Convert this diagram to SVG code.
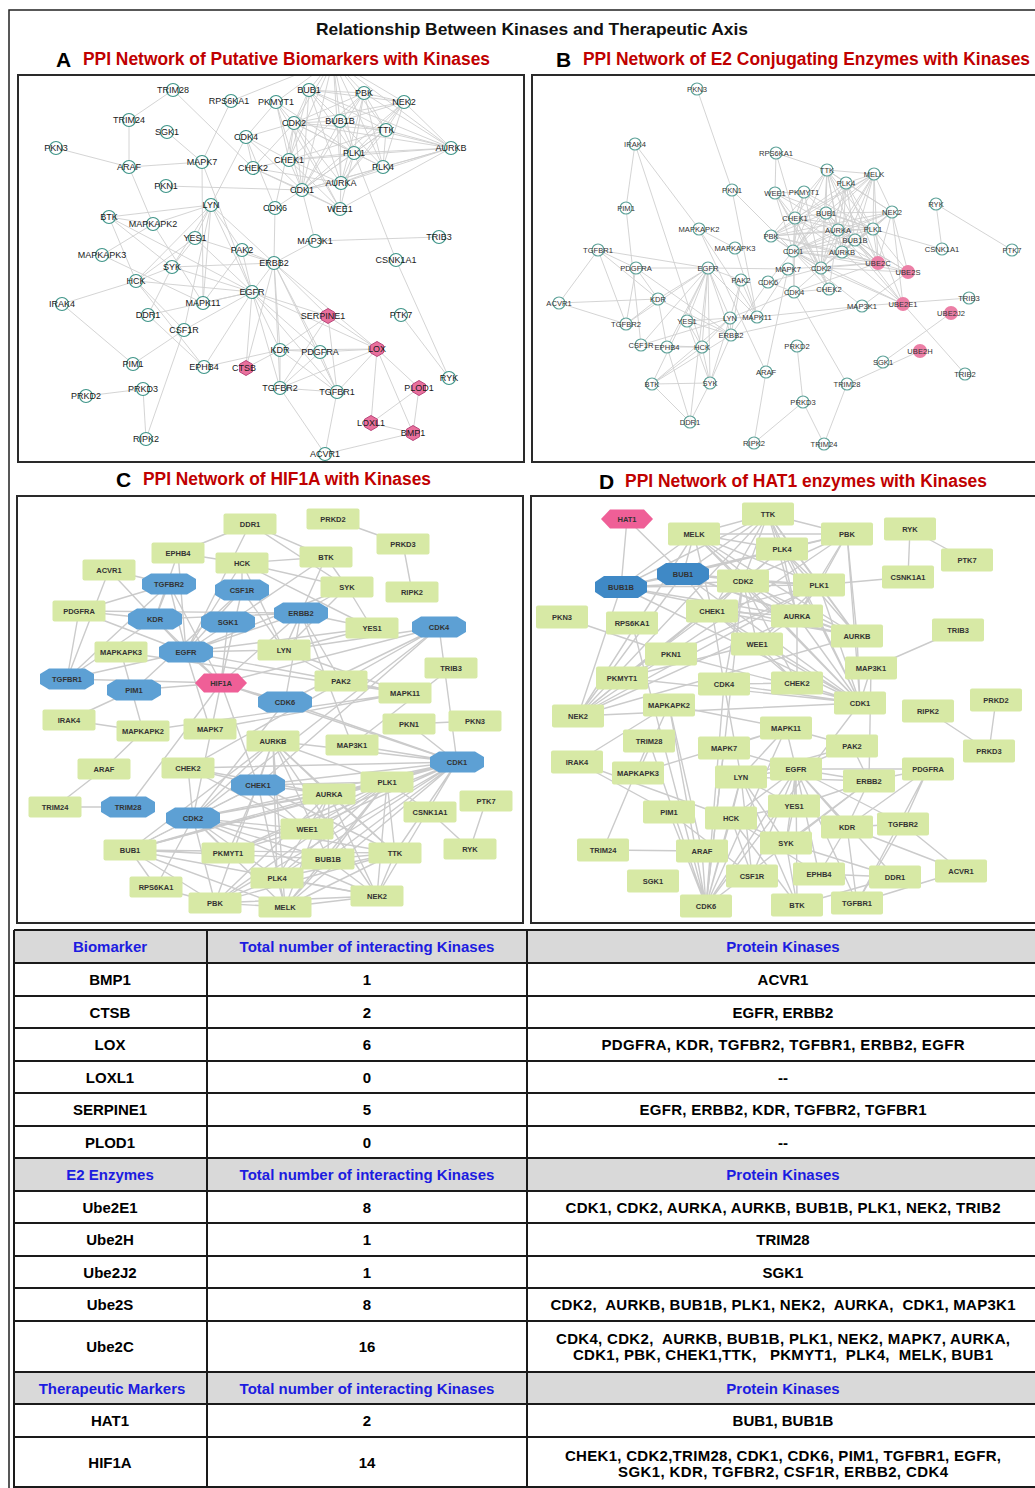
<svg xmlns="http://www.w3.org/2000/svg" width="1035" height="1488" viewBox="0 0 1035 1488">
<style>
.ca{fill:#fff;fill-opacity:.8;stroke:#3e9488;stroke-width:1.2}
.pa{fill:#e9709d;stroke:#b8467a;stroke-width:1}
.ta{font:9px "Liberation Sans",Arial,sans-serif;fill:#1a1a1a;text-anchor:middle}
.cb{fill:#fff;fill-opacity:.8;stroke:#5fa39a;stroke-width:1.1}
.pb{fill:#ec7fa6}
.tb{font:7.6px "Liberation Sans",Arial,sans-serif;fill:#333;text-anchor:middle}
.rn{fill:#d7e9a5}
.oc{fill:#5da0d4}
.od{fill:#3f89c6}
.hx{fill:#ef5f97}
.tc{font:bold 7.5px "Liberation Sans",Arial,sans-serif;fill:#333;text-anchor:middle}
.ea{fill:none;stroke:#cfcfcf;stroke-width:.9}
.ec{fill:none;stroke:#cbcbcb;stroke-width:1.4}
.box{fill:none;stroke:#2a2a2a;stroke-width:2}
.ttl{font:bold 17px "Liberation Sans",Arial,sans-serif;fill:#111}
.let{font:bold 21px "Liberation Sans",Arial,sans-serif;fill:#000}
.red{font:bold 17.5px "Liberation Sans",Arial,sans-serif;fill:#c00000}
.th{font:bold 15px "Liberation Sans",Arial,sans-serif;fill:#1c1ce0;text-anchor:middle}
.td{font:bold 15px "Liberation Sans",Arial,sans-serif;fill:#000;text-anchor:middle;white-space:pre}
.hdr{fill:#d9d9d9}
.grid{stroke:#1a1a1a;stroke-width:2;fill:none}
</style>
<defs>
<clipPath id="clipA"><rect x="19" y="76" width="504" height="385"/></clipPath>
<clipPath id="clipB"><rect x="533" y="76" width="502" height="385"/></clipPath>
<circle id="cA" r="6.5"/>
<polygon id="hA" points="0,-7.5 6.5,-3.75 6.5,3.75 0,7.5 -6.5,3.75 -6.5,-3.75"/>
<circle id="cB" r="6"/>
<circle id="pB" r="7"/>
<rect id="rC" x="-26.5" y="-10.5" width="53" height="21" rx="2"/>
<polygon id="oC" points="-27,-5 -18,-10.5 18,-10.5 27,-5 27,5 18,10.5 -18,10.5 -27,5"/>
<rect id="rD" x="-26" y="-11.5" width="52" height="23" rx="2"/>
<polygon id="oD" points="-26,-5 -17,-11 17,-11 26,-5 26,5 17,11 -17,11 -26,5"/>
<polygon id="hX" points="-26,0 -17,-9.5 17,-9.5 26,0 17,9.5 -17,9.5"/>
</defs>
<rect width="1035" height="1488" fill="#fff"/>
<rect x="9" y="10" width="1040" height="1490" fill="none" stroke="#222" stroke-width="1.5"/>

<!-- headings -->
<text class="ttl" x="316" y="34.5" textLength="432" lengthAdjust="spacingAndGlyphs">Relationship Between Kinases and Therapeutic Axis</text>
<text class="let" x="56" y="67">A</text>
<text class="red" x="83" y="65" textLength="407" lengthAdjust="spacingAndGlyphs">PPI Network of Putative Biomarkers with Kinases</text>
<text class="let" x="556" y="67">B</text>
<text class="red" x="583" y="65" textLength="447" lengthAdjust="spacingAndGlyphs">PPI Network of E2 Conjugating Enzymes with Kinases</text>
<text class="let" x="116" y="487">C</text>
<text class="red" x="143" y="485" textLength="288" lengthAdjust="spacingAndGlyphs">PPI Network of HIF1A with Kinases</text>
<text class="let" x="599" y="489">D</text>
<text class="red" x="625" y="487" textLength="362" lengthAdjust="spacingAndGlyphs">PPI Network of HAT1 enzymes with Kinases</text>

<rect class="box" x="18" y="75" width="506" height="387"/>
<rect class="box" x="532" y="75" width="510" height="387"/>
<rect class="box" x="17" y="496" width="506" height="427"/>
<rect class="box" x="531" y="496" width="510" height="427"/>

<!-- connectors -->
<g id="connectors">
<g id="edges-a" class="ea" clip-path="url(#clipA)">
<path d="M302 190L294 123M302 190L341 183M302 190L451 148M302 190L309 90M302 190L340 121M302 190L354 153M302 190L383 167M302 190L386 130M302 190L404 102M302 190L364 93M302 190L289 160M302 190L276 102M302 190L340 209M302 190L333 60M302 190L246 137M302 190L253 168M302 190L275 208M302 190L315 241M302 190L166 186"/>
<path d="M294 123L341 183M294 123L451 148M294 123L309 90M294 123L340 121M294 123L354 153M294 123L383 167M294 123L386 130M294 123L404 102M294 123L364 93M294 123L289 160M294 123L276 102M294 123L340 209M294 123L333 60M294 123L246 137M294 123L253 168M294 123L275 208"/>
<path d="M341 183L451 148M341 183L309 90M341 183L340 121M341 183L354 153M341 183L383 167M341 183L386 130M341 183L404 102M341 183L364 93M341 183L289 160M341 183L340 209M341 183L333 60M341 183L253 168"/>
<path d="M451 148L309 90M451 148L340 121M451 148L354 153M451 148L383 167M451 148L386 130M451 148L404 102M451 148L364 93M451 148L289 160M451 148L333 60M451 148L340 209"/>
<path d="M309 90L340 121M309 90L354 153M309 90L386 130M309 90L404 102M309 90L364 93M309 90L333 60M309 90L289 160M340 121L354 153M340 121L383 167M340 121L386 130M340 121L404 102M340 121L364 93M340 121L333 60"/>
<path d="M354 153L383 167M354 153L386 130M354 153L404 102M354 153L364 93M354 153L289 160M354 153L276 102M354 153L340 209M354 153L333 60M354 153L396 260M383 167L386 130M383 167L404 102M383 167L364 93M383 167L333 60M386 130L404 102M386 130L364 93M386 130L333 60M386 130L289 160M404 102L364 93M404 102L333 60M364 93L333 60M364 93L289 160"/>
<path d="M289 160L276 102M289 160L340 209M289 160L253 168M289 160L333 60M289 160L246 137M340 209L276 102M340 209L253 168M246 137L275 208M246 137L253 168M246 137L276 102M246 137L211 205M274 263L275 208M276 102L333 60M231 101L333 60"/>
<path d="M252 292L274 263M252 292L280 350M252 292L320 352M252 292L184 330M252 292L136 281M252 292L211 205M252 292L172 267M252 292L195 238M252 292L204 367M252 292L148 315M252 292L242 250M252 292L203 303M252 292L337 392M252 292L280 388M252 292L109 217M252 292L202 162"/>
<path d="M274 263L280 350M274 263L320 352M274 263L211 205M274 263L172 267M274 263L195 238M274 263L242 250M274 263L315 241M274 263L280 388M274 263L337 392"/>
<path d="M211 205L172 267M211 205L136 281M211 205L195 238M211 205L109 217M211 205L184 330M211 205L203 303M211 205L242 250M172 267L136 281M172 267L109 217M172 267L195 238M172 267L148 315M136 281L195 238M136 281L109 217M136 281L184 330M136 281L62 304M136 281L204 367"/>
<path d="M280 350L320 352M280 350L280 388M280 350L337 392M280 350L204 367M337 392L280 388M337 392L325 454M337 392L320 352M280 388L325 454M280 388L320 352M203 303L153 224M203 303L102 255M203 303L202 162M203 303L242 250M153 224L102 255M153 224L129 167M153 224L211 205M153 224L109 217"/>
<path d="M86 396L143 389M143 389L146 439M146 439L184 330M129 120L173 90M129 120L129 167M449 378L401 315M449 378L396 260M439 237L315 241M62 304L133 364M133 364L184 330M56 148L129 167M129 167L202 162M173 90L253 168M231 101L202 162M167 132L202 162M204 367L148 315"/>
<path d="M328 316L252 292M328 316L274 263M328 316L280 350M328 316L280 388M328 316L337 392M328 316L377 349M377 349L320 352M377 349L280 350M377 349L280 388M377 349L337 392M377 349L274 263M377 349L252 292M377 349L371 423M377 349L413 433M377 349L419 388M246 368L252 292M246 368L274 263M246 368L280 350M413 433L325 454M413 433L371 423M413 433L419 388M419 388L371 423"/>
</g>
<g id="edges-b" class="ea" clip-path="url(#clipB)">
<path d="M793 251L821 268M793 251L838 230M793 251L842 252M793 251L826 213M793 251L855 240M793 251L873 229M793 251L846 183M793 251L827 170M793 251L892 212M793 251L771 236M793 251L795 218M793 251L804 192M793 251L775 193M793 251L874 174M793 251L794 292M793 251L829 289M793 251L768 282M793 251L862 306M793 251L732 190"/>
<path d="M821 268L838 230M821 268L842 252M821 268L826 213M821 268L855 240M821 268L873 229M821 268L846 183M821 268L827 170M821 268L892 212M821 268L771 236M821 268L795 218M821 268L804 192M821 268L775 193M821 268L874 174M821 268L794 292M821 268L829 289M821 268L768 282"/>
<path d="M838 230L842 252M838 230L826 213M838 230L855 240M838 230L873 229M838 230L846 183M838 230L827 170M838 230L892 212M838 230L771 236M838 230L795 218M838 230L775 193M838 230L874 174M838 230L829 289"/>
<path d="M842 252L826 213M842 252L855 240M842 252L873 229M842 252L846 183M842 252L827 170M842 252L892 212M842 252L771 236M842 252L795 218M842 252L874 174M826 213L855 240M826 213L873 229M826 213L827 170M826 213L892 212M826 213L771 236M826 213L874 174M826 213L795 218M855 240L873 229M855 240L846 183M855 240L827 170M855 240L892 212M855 240L874 174"/>
<path d="M873 229L846 183M873 229L827 170M873 229L892 212M873 229L771 236M873 229L795 218M873 229L804 192M873 229L775 193M873 229L874 174M873 229L942 249M846 183L827 170M846 183L892 212M846 183L771 236M846 183L874 174M827 170L892 212M827 170L771 236M827 170L874 174M827 170L795 218M892 212L771 236M892 212L874 174M771 236L874 174"/>
<path d="M795 218L804 192M795 218L775 193M795 218L829 289M795 218L874 174M795 218L794 292M775 193L804 192M775 193L829 289M775 193L776 153M794 292L768 282M794 292L829 289M794 292L730 318M794 292L847 384M768 282L731 335"/>
<path d="M708 268L731 335M708 268L658 299M708 268L636 268M708 268L641 345M708 268L702 347M708 268L730 318M708 268L710 383M708 268L687 321M708 268L667 347M708 268L690 422M708 268L741 280M708 268L757 317M708 268L598 250M708 268L626 324M708 268L652 384M708 268L788 269"/>
<path d="M731 335L658 299M731 335L636 268M731 335L730 318M731 335L710 383M731 335L687 321M731 335L741 280M731 335L862 306M731 335L652 384M730 318L710 383M730 318L702 347M730 318L687 321M730 318L652 384M730 318L641 345M730 318L757 317M730 318L741 280"/>
<path d="M710 383L702 347M710 383L652 384M710 383L687 321M710 383L690 422M702 347L687 321M702 347L652 384M702 347L641 345M702 347L635 144M702 347L667 347M658 299L636 268M658 299L626 324M658 299L598 250M658 299L667 347M658 299L559 303M598 250L626 324M598 250L559 303M598 250L636 268M626 324L559 303M626 324L636 268"/>
<path d="M757 317L699 229M757 317L735 248M757 317L788 269M757 317L741 280M757 317L862 306M699 229L735 248M699 229L766 372M699 229L635 144"/>
<path d="M797 346L803 402M803 402L754 443M803 402L824 444M824 444L847 384M766 372L754 443M766 372L788 269M936 204L1012 250M936 204L942 249M969 298L862 306M635 144L626 208M626 208L641 345M697 89L732 190M732 190L757 317M776 153L795 218M776 153L827 170M667 347L690 422M652 384L690 422"/>
<path d="M878 263L794 292M878 263L821 268M878 263L842 252M878 263L855 240M878 263L873 229M878 263L892 212M878 263L788 269M878 263L838 230M878 263L793 251M878 263L771 236M878 263L795 218M878 263L827 170M878 263L804 192M878 263L846 183M878 263L874 174M878 263L826 213"/>
<path d="M903 304L793 251M903 304L821 268M903 304L838 230M903 304L842 252M903 304L855 240M903 304L873 229M903 304L892 212M903 304L965 374M920 351L847 384M951 313L883 362M908 272L821 268M908 272L842 252M908 272L855 240M908 272L873 229M908 272L892 212M908 272L838 230M908 272L793 251M908 272L862 306"/>
</g>
<g id="edges-c" class="ec">
<path d="M457 762L193 818M457 762L329 794M457 762L273 741M457 762L130 850M457 762L328 859M457 762L387 782M457 762L277 878M457 762L395 853M457 762L377 896M457 762L215 903M457 762L258 785M457 762L228 853M457 762L307 829M457 762L285 907M457 762L439 627M457 762L188 768M457 762L285 702M457 762L352 745M457 762L409 724"/>
<path d="M193 818L329 794M193 818L273 741M193 818L130 850M193 818L328 859M193 818L387 782M193 818L277 878M193 818L395 853M193 818L377 896M193 818L215 903M193 818L258 785M193 818L228 853M193 818L307 829M193 818L285 907M193 818L439 627M193 818L188 768M193 818L285 702"/>
<path d="M329 794L273 741M329 794L130 850M329 794L328 859M329 794L387 782M329 794L277 878M329 794L395 853M329 794L377 896M329 794L215 903M329 794L258 785M329 794L307 829M329 794L285 907M329 794L188 768"/>
<path d="M273 741L130 850M273 741L328 859M273 741L387 782M273 741L277 878M273 741L395 853M273 741L377 896M273 741L215 903M273 741L258 785M273 741L285 907M130 850L328 859M130 850L387 782M130 850L395 853M130 850L377 896M130 850L215 903M130 850L285 907M130 850L258 785M328 859L387 782M328 859L277 878M328 859L395 853M328 859L377 896M328 859L285 907"/>
<path d="M387 782L277 878M387 782L395 853M387 782L377 896M387 782L215 903M387 782L258 785M387 782L228 853M387 782L307 829M387 782L285 907M387 782L430 812M277 878L395 853M277 878L377 896M277 878L215 903M277 878L285 907M395 853L377 896M395 853L215 903M395 853L285 907M395 853L258 785M377 896L215 903M377 896L285 907M215 903L285 907"/>
<path d="M258 785L228 853M258 785L307 829M258 785L188 768M258 785L285 907M258 785L439 627M307 829L228 853M307 829L188 768M439 627L285 702M439 627L188 768M439 627L284 650M285 702L301 613M156 887L215 903M156 887L130 850M156 887L193 818"/>
<path d="M186 652L301 613M186 652L155 619M186 652L79 611M186 652L242 590M186 652L242 563M186 652L284 650M186 652L347 587M186 652L372 628M186 652L178 553M186 652L250 524M186 652L341 681M186 652L405 693M186 652L67 679M186 652L169 584M186 652L326 557M186 652L210 729"/>
<path d="M301 613L155 619M301 613L79 611M301 613L284 650M301 613L347 587M301 613L372 628M301 613L341 681M301 613L352 745M284 650L347 587M284 650L242 563M284 650L372 628M284 650L326 557M284 650L242 590M284 650L405 693M284 650L341 681"/>
<path d="M347 587L242 563M347 587L326 557M347 587L372 628M347 587L250 524M242 563L372 628M242 563L326 557M242 563L242 590M242 563L178 553M155 619L79 611M155 619L169 584M155 619L67 679M155 619L178 553M155 619L109 570M67 679L169 584M67 679L109 570M67 679L79 611M169 584L109 570M169 584L79 611"/>
<path d="M405 693L143 731M405 693L121 652M405 693L210 729M405 693L341 681M143 731L121 652M143 731L104 769M143 731L69 720M333 519L403 544M403 544L412 592M55 807L128 807M55 807L104 769M470 849L486 801M470 849L430 812M451 668L352 745M69 720L134 690M134 690L242 590M409 724L475 721M250 524L178 553M250 524L326 557"/>
<path d="M221 683L258 785M221 683L193 818M221 683L128 807M221 683L457 762M221 683L285 702M221 683L134 690M221 683L67 679M221 683L186 652M221 683L228 622M221 683L155 619M221 683L169 584M221 683L242 590M221 683L301 613M221 683L439 627"/>
</g>
<g id="edges-d" class="ec">
<path d="M860 703L743 581M860 703L797 616M860 703L857 636M860 703L683 574M860 703L621 587M860 703L819 585M860 703L782 549M860 703L768 514M860 703L578 716M860 703L847 534M860 703L712 611M860 703L622 678M860 703L757 644M860 703L694 534M860 703L724 684M860 703L797 683M860 703L706 906M860 703L871 668M860 703L671 654"/>
<path d="M743 581L797 616M743 581L857 636M743 581L683 574M743 581L621 587M743 581L819 585M743 581L782 549M743 581L768 514M743 581L578 716M743 581L847 534M743 581L712 611M743 581L622 678M743 581L757 644M743 581L694 534M743 581L724 684M743 581L797 683M743 581L706 906"/>
<path d="M797 616L857 636M797 616L683 574M797 616L621 587M797 616L819 585M797 616L782 549M797 616L768 514M797 616L578 716M797 616L847 534M797 616L712 611M797 616L757 644M797 616L694 534M797 616L797 683"/>
<path d="M857 636L683 574M857 636L621 587M857 636L819 585M857 636L782 549M857 636L768 514M857 636L578 716M857 636L847 534M857 636L712 611M857 636L694 534M683 574L621 587M683 574L819 585M683 574L768 514M683 574L578 716M683 574L847 534M683 574L694 534M683 574L712 611M621 587L819 585M621 587L782 549M621 587L768 514M621 587L578 716M621 587L694 534"/>
<path d="M819 585L782 549M819 585L768 514M819 585L578 716M819 585L847 534M819 585L712 611M819 585L622 678M819 585L757 644M819 585L694 534M819 585L908 577M782 549L768 514M782 549L578 716M782 549L847 534M782 549L694 534M768 514L578 716M768 514L847 534M768 514L694 534M768 514L712 611M578 716L847 534M578 716L694 534M847 534L694 534"/>
<path d="M712 611L622 678M712 611L757 644M712 611L797 683M712 611L694 534M712 611L724 684M757 644L622 678M757 644L797 683M724 684L706 906M724 684L797 683M724 684L741 777"/>
<path d="M706 906L869 781M706 906L702 851M706 906L731 818M706 906L741 777M706 906L724 748M706 906L669 812M706 906L649 741M706 906L669 705M706 906L632 623M706 906L786 728M706 906L796 769"/>
<path d="M796 769L869 781M796 769L847 827M796 769L928 769M796 769L752 876M796 769L731 818M796 769L741 777M796 769L786 843M796 769L794 806M796 769L819 874M796 769L895 877M796 769L852 746M796 769L786 728M796 769L857 903M796 769L903 824M796 769L797 905M796 769L724 748"/>
<path d="M869 781L847 827M869 781L928 769M869 781L741 777M869 781L786 843M869 781L794 806M869 781L852 746M869 781L871 668M741 777L786 843M741 777L731 818M741 777L794 806M741 777L797 905M741 777L752 876M741 777L786 728M741 777L852 746"/>
<path d="M786 843L731 818M786 843L797 905M786 843L794 806M786 843L895 877M731 818L794 806M731 818L797 905M731 818L752 876M731 818L577 762M731 818L819 874M847 827L928 769M847 827L903 824M847 827L857 903M847 827L819 874M847 827L961 871M857 903L903 824M857 903L961 871M857 903L928 769M903 824L961 871M903 824L928 769"/>
<path d="M786 728L669 705M786 728L638 773M786 728L724 748M786 728L852 746M669 705L638 773M669 705L702 851M669 705L577 762"/>
<path d="M996 700L989 751M989 751L928 711M603 850L649 741M603 850L702 851M910 529L967 560M910 529L908 577M958 630L871 668M577 762L669 812M669 812L752 876M671 654L562 617M895 877L819 874M895 877L797 905M627 519L683 574M627 519L621 587"/>
</g>
</g>

<!-- Panel A nodes -->
<g id="panel-a-nodes">
<g id="a-trim28" transform="translate(173 90)"><use href="#cA" class="ca"/><text class="ta" y="3">TRIM28</text></g>
<g id="a-rps6ka1" transform="translate(231 101)"><use href="#cA" class="ca"/><text class="ta" x="-2" y="3">RPS6KA1</text></g>
<g id="a-pkmyt1" transform="translate(276 102)"><use href="#cA" class="ca"/><text class="ta" y="3">PKMYT1</text></g>
<g id="a-bub1" transform="translate(309 90)"><use href="#cA" class="ca"/><text class="ta" y="3">BUB1</text></g>
<g id="a-pbk" transform="translate(364 93)"><use href="#cA" class="ca"/><text class="ta" y="3">PBK</text></g>
<g id="a-nek2" transform="translate(404 102)"><use href="#cA" class="ca"/><text class="ta" y="3">NEK2</text></g>
<g id="a-trim24" transform="translate(129 120)"><use href="#cA" class="ca"/><text class="ta" y="3">TRIM24</text></g>
<g id="a-sgk1" transform="translate(167 132)"><use href="#cA" class="ca"/><text class="ta" y="3">SGK1</text></g>
<g id="a-cdk2" transform="translate(294 123)"><use href="#cA" class="ca"/><text class="ta" y="3">CDK2</text></g>
<g id="a-bub1b" transform="translate(340 121)"><use href="#cA" class="ca"/><text class="ta" y="3">BUB1B</text></g>
<g id="a-ttk" transform="translate(386 130)"><use href="#cA" class="ca"/><text class="ta" y="3">TTK</text></g>
<g id="a-cdk4" transform="translate(246 137)"><use href="#cA" class="ca"/><text class="ta" y="3">CDK4</text></g>
<g id="a-pkn3" transform="translate(56 148)"><use href="#cA" class="ca"/><text class="ta" y="3">PKN3</text></g>
<g id="a-aurkb" transform="translate(451 148)"><use href="#cA" class="ca"/><text class="ta" y="3">AURKB</text></g>
<g id="a-araf" transform="translate(129 167)"><use href="#cA" class="ca"/><text class="ta" y="3">ARAF</text></g>
<g id="a-mapk7" transform="translate(202 162)"><use href="#cA" class="ca"/><text class="ta" y="3">MAPK7</text></g>
<g id="a-chek2" transform="translate(253 168)"><use href="#cA" class="ca"/><text class="ta" y="3">CHEK2</text></g>
<g id="a-chek1" transform="translate(289 160)"><use href="#cA" class="ca"/><text class="ta" y="3">CHEK1</text></g>
<g id="a-plk1" transform="translate(354 153)"><use href="#cA" class="ca"/><text class="ta" y="3">PLK1</text></g>
<g id="a-plk4" transform="translate(383 167)"><use href="#cA" class="ca"/><text class="ta" y="3">PLK4</text></g>
<g id="a-pkn1" transform="translate(166 186)"><use href="#cA" class="ca"/><text class="ta" y="3">PKN1</text></g>
<g id="a-aurka" transform="translate(341 183)"><use href="#cA" class="ca"/><text class="ta" y="3">AURKA</text></g>
<g id="a-cdk1" transform="translate(302 190)"><use href="#cA" class="ca"/><text class="ta" y="3">CDK1</text></g>
<g id="a-lyn" transform="translate(211 205)"><use href="#cA" class="ca"/><text class="ta" y="3">LYN</text></g>
<g id="a-cdk6" transform="translate(275 208)"><use href="#cA" class="ca"/><text class="ta" y="3">CDK6</text></g>
<g id="a-wee1" transform="translate(340 209)"><use href="#cA" class="ca"/><text class="ta" y="3">WEE1</text></g>
<g id="a-btk" transform="translate(109 217)"><use href="#cA" class="ca"/><text class="ta" y="3">BTK</text></g>
<g id="a-mapkapk2" transform="translate(153 224)"><use href="#cA" class="ca"/><text class="ta" y="3">MAPKAPK2</text></g>
<g id="a-yes1" transform="translate(195 238)"><use href="#cA" class="ca"/><text class="ta" y="3">YES1</text></g>
<g id="a-map3k1" transform="translate(315 241)"><use href="#cA" class="ca"/><text class="ta" y="3">MAP3K1</text></g>
<g id="a-trib3" transform="translate(439 237)"><use href="#cA" class="ca"/><text class="ta" y="3">TRIB3</text></g>
<g id="a-pak2" transform="translate(242 250)"><use href="#cA" class="ca"/><text class="ta" y="3">PAK2</text></g>
<g id="a-mapkapk3" transform="translate(102 255)"><use href="#cA" class="ca"/><text class="ta" y="3">MAPKAPK3</text></g>
<g id="a-erbb2" transform="translate(274 263)"><use href="#cA" class="ca"/><text class="ta" y="3">ERBB2</text></g>
<g id="a-csnk1a1" transform="translate(396 260)"><use href="#cA" class="ca"/><text class="ta" y="3">CSNK1A1</text></g>
<g id="a-syk" transform="translate(172 267)"><use href="#cA" class="ca"/><text class="ta" y="3">SYK</text></g>
<g id="a-hck" transform="translate(136 281)"><use href="#cA" class="ca"/><text class="ta" y="3">HCK</text></g>
<g id="a-egfr" transform="translate(252 292)"><use href="#cA" class="ca"/><text class="ta" y="3">EGFR</text></g>
<g id="a-irak4" transform="translate(62 304)"><use href="#cA" class="ca"/><text class="ta" y="3">IRAK4</text></g>
<g id="a-mapk11" transform="translate(203 303)"><use href="#cA" class="ca"/><text class="ta" y="3">MAPK11</text></g>
<g id="a-ddr1" transform="translate(148 315)"><use href="#cA" class="ca"/><text class="ta" y="3">DDR1</text></g>
<g id="a-serpine1" transform="translate(328 316)"><use href="#hA" class="pa"/><text class="ta" x="-5" y="3">SERPINE1</text></g>
<g id="a-ptk7" transform="translate(401 315)"><use href="#cA" class="ca"/><text class="ta" y="3">PTK7</text></g>
<g id="a-csf1r" transform="translate(184 330)"><use href="#cA" class="ca"/><text class="ta" y="3">CSF1R</text></g>
<g id="a-kdr" transform="translate(280 350)"><use href="#cA" class="ca"/><text class="ta" y="3">KDR</text></g>
<g id="a-pdgfra" transform="translate(320 352)"><use href="#cA" class="ca"/><text class="ta" y="3">PDGFRA</text></g>
<g id="a-lox" transform="translate(377 349)"><use href="#hA" class="pa"/><text class="ta" y="3">LOX</text></g>
<g id="a-pim1" transform="translate(133 364)"><use href="#cA" class="ca"/><text class="ta" y="3">PIM1</text></g>
<g id="a-ephb4" transform="translate(204 367)"><use href="#cA" class="ca"/><text class="ta" y="3">EPHB4</text></g>
<g id="a-ctsb" transform="translate(246 368)"><use href="#hA" class="pa"/><text class="ta" x="-2" y="3">CTSB</text></g>
<g id="a-ryk" transform="translate(449 378)"><use href="#cA" class="ca"/><text class="ta" y="3">RYK</text></g>
<g id="a-prkd3" transform="translate(143 389)"><use href="#cA" class="ca"/><text class="ta" y="3">PRKD3</text></g>
<g id="a-prkd2" transform="translate(86 396)"><use href="#cA" class="ca"/><text class="ta" y="3">PRKD2</text></g>
<g id="a-tgfbr2" transform="translate(280 388)"><use href="#cA" class="ca"/><text class="ta" y="3">TGFBR2</text></g>
<g id="a-tgfbr1" transform="translate(337 392)"><use href="#cA" class="ca"/><text class="ta" y="3">TGFBR1</text></g>
<g id="a-plod1" transform="translate(419 388)"><use href="#hA" class="pa"/><text class="ta" y="3">PLOD1</text></g>
<g id="a-loxl1" transform="translate(371 423)"><use href="#hA" class="pa"/><text class="ta" y="3">LOXL1</text></g>
<g id="a-bmp1" transform="translate(413 433)"><use href="#hA" class="pa"/><text class="ta" y="3">BMP1</text></g>
<g id="a-ripk2" transform="translate(146 439)"><use href="#cA" class="ca"/><text class="ta" y="3">RIPK2</text></g>
<g id="a-acvr1" transform="translate(325 454)"><use href="#cA" class="ca"/><text class="ta" y="3">ACVR1</text></g>
</g>

<!-- Panel B nodes -->
<g id="panel-b-nodes">
<g id="b-pkn3" transform="translate(697 89)"><use href="#cB" class="cb"/><text class="tb" y="2.7">PKN3</text></g>
<g id="b-irak4" transform="translate(635 144)"><use href="#cB" class="cb"/><text class="tb" y="2.7">IRAK4</text></g>
<g id="b-rps6ka1" transform="translate(776 153)"><use href="#cB" class="cb"/><text class="tb" y="2.7">RPS6KA1</text></g>
<g id="b-ttk" transform="translate(827 170)"><use href="#cB" class="cb"/><text class="tb" y="2.7">TTK</text></g>
<g id="b-melk" transform="translate(874 174)"><use href="#cB" class="cb"/><text class="tb" y="2.7">MELK</text></g>
<g id="b-plk4" transform="translate(846 183)"><use href="#cB" class="cb"/><text class="tb" y="2.7">PLK4</text></g>
<g id="b-pkn1" transform="translate(732 190)"><use href="#cB" class="cb"/><text class="tb" y="2.7">PKN1</text></g>
<g id="b-wee1" transform="translate(775 193)"><use href="#cB" class="cb"/><text class="tb" y="2.7">WEE1</text></g>
<g id="b-pkmyt1" transform="translate(804 192)"><use href="#cB" class="cb"/><text class="tb" y="2.7">PKMYT1</text></g>
<g id="b-ryk" transform="translate(936 204)"><use href="#cB" class="cb"/><text class="tb" y="2.7">RYK</text></g>
<g id="b-pim1" transform="translate(626 208)"><use href="#cB" class="cb"/><text class="tb" y="2.7">PIM1</text></g>
<g id="b-bub1" transform="translate(826 213)"><use href="#cB" class="cb"/><text class="tb" y="2.7">BUB1</text></g>
<g id="b-nek2" transform="translate(892 212)"><use href="#cB" class="cb"/><text class="tb" y="2.7">NEK2</text></g>
<g id="b-chek1" transform="translate(795 218)"><use href="#cB" class="cb"/><text class="tb" y="2.7">CHEK1</text></g>
<g id="b-mapkapk2" transform="translate(699 229)"><use href="#cB" class="cb"/><text class="tb" y="2.7">MAPKAPK2</text></g>
<g id="b-aurka" transform="translate(838 230)"><use href="#cB" class="cb"/><text class="tb" y="2.7">AURKA</text></g>
<g id="b-plk1" transform="translate(873 229)"><use href="#cB" class="cb"/><text class="tb" y="2.7">PLK1</text></g>
<g id="b-pbk" transform="translate(771 236)"><use href="#cB" class="cb"/><text class="tb" y="2.7">PBK</text></g>
<g id="b-bub1b" transform="translate(855 240)"><use href="#cB" class="cb"/><text class="tb" y="2.7">BUB1B</text></g>
<g id="b-tgfbr1" transform="translate(598 250)"><use href="#cB" class="cb"/><text class="tb" y="2.7">TGFBR1</text></g>
<g id="b-mapkapk3" transform="translate(735 248)"><use href="#cB" class="cb"/><text class="tb" y="2.7">MAPKAPK3</text></g>
<g id="b-cdk1" transform="translate(793 251)"><use href="#cB" class="cb"/><text class="tb" y="2.7">CDK1</text></g>
<g id="b-aurkb" transform="translate(842 252)"><use href="#cB" class="cb"/><text class="tb" y="2.7">AURKB</text></g>
<g id="b-csnk1a1" transform="translate(942 249)"><use href="#cB" class="cb"/><text class="tb" y="2.7">CSNK1A1</text></g>
<g id="b-ptk7" transform="translate(1012 250)"><use href="#cB" class="cb"/><text class="tb" y="2.7">PTK7</text></g>
<g id="b-ube2c" transform="translate(878 263)"><use href="#pB" class="pb"/><text class="tb" y="2.7">UBE2C</text></g>
<g id="b-pdgfra" transform="translate(636 268)"><use href="#cB" class="cb"/><text class="tb" y="2.7">PDGFRA</text></g>
<g id="b-egfr" transform="translate(708 268)"><use href="#cB" class="cb"/><text class="tb" y="2.7">EGFR</text></g>
<g id="b-mapk7" transform="translate(788 269)"><use href="#cB" class="cb"/><text class="tb" y="2.7">MAPK7</text></g>
<g id="b-cdk2" transform="translate(821 268)"><use href="#cB" class="cb"/><text class="tb" y="2.7">CDK2</text></g>
<g id="b-ube2s" transform="translate(908 272)"><use href="#pB" class="pb"/><text class="tb" y="2.7">UBE2S</text></g>
<g id="b-pak2" transform="translate(741 280)"><use href="#cB" class="cb"/><text class="tb" y="2.7">PAK2</text></g>
<g id="b-cdk6" transform="translate(768 282)"><use href="#cB" class="cb"/><text class="tb" y="2.7">CDK6</text></g>
<g id="b-cdk4" transform="translate(794 292)"><use href="#cB" class="cb"/><text class="tb" y="2.7">CDK4</text></g>
<g id="b-chek2" transform="translate(829 289)"><use href="#cB" class="cb"/><text class="tb" y="2.7">CHEK2</text></g>
<g id="b-acvr1" transform="translate(559 303)"><use href="#cB" class="cb"/><text class="tb" y="2.7">ACVR1</text></g>
<g id="b-kdr" transform="translate(658 299)"><use href="#cB" class="cb"/><text class="tb" y="2.7">KDR</text></g>
<g id="b-map3k1" transform="translate(862 306)"><use href="#cB" class="cb"/><text class="tb" y="2.7">MAP3K1</text></g>
<g id="b-ube2e1" transform="translate(903 304)"><use href="#pB" class="pb"/><text class="tb" y="2.7">UBE2E1</text></g>
<g id="b-trib3" transform="translate(969 298)"><use href="#cB" class="cb"/><text class="tb" y="2.7">TRIB3</text></g>
<g id="b-ube2j2" transform="translate(951 313)"><use href="#pB" class="pb"/><text class="tb" y="2.7">UBE2J2</text></g>
<g id="b-tgfbr2" transform="translate(626 324)"><use href="#cB" class="cb"/><text class="tb" y="2.7">TGFBR2</text></g>
<g id="b-yes1" transform="translate(687 321)"><use href="#cB" class="cb"/><text class="tb" y="2.7">YES1</text></g>
<g id="b-lyn" transform="translate(730 318)"><use href="#cB" class="cb"/><text class="tb" y="2.7">LYN</text></g>
<g id="b-mapk11" transform="translate(757 317)"><use href="#cB" class="cb"/><text class="tb" y="2.7">MAPK11</text></g>
<g id="b-erbb2" transform="translate(731 335)"><use href="#cB" class="cb"/><text class="tb" y="2.7">ERBB2</text></g>
<g id="b-csf1r" transform="translate(641 345)"><use href="#cB" class="cb"/><text class="tb" y="2.7">CSF1R</text></g>
<g id="b-ephb4" transform="translate(667 347)"><use href="#cB" class="cb"/><text class="tb" y="2.7">EPHB4</text></g>
<g id="b-hck" transform="translate(702 347)"><use href="#cB" class="cb"/><text class="tb" y="2.7">HCK</text></g>
<g id="b-prkd2" transform="translate(797 346)"><use href="#cB" class="cb"/><text class="tb" y="2.7">PRKD2</text></g>
<g id="b-ube2h" transform="translate(920 351)"><use href="#pB" class="pb"/><text class="tb" y="2.7">UBE2H</text></g>
<g id="b-sgk1" transform="translate(883 362)"><use href="#cB" class="cb"/><text class="tb" y="2.7">SGK1</text></g>
<g id="b-trib2" transform="translate(965 374)"><use href="#cB" class="cb"/><text class="tb" y="2.7">TRIB2</text></g>
<g id="b-araf" transform="translate(766 372)"><use href="#cB" class="cb"/><text class="tb" y="2.7">ARAF</text></g>
<g id="b-btk" transform="translate(652 384)"><use href="#cB" class="cb"/><text class="tb" y="2.7">BTK</text></g>
<g id="b-syk" transform="translate(710 383)"><use href="#cB" class="cb"/><text class="tb" y="2.7">SYK</text></g>
<g id="b-trim28" transform="translate(847 384)"><use href="#cB" class="cb"/><text class="tb" y="2.7">TRIM28</text></g>
<g id="b-prkd3" transform="translate(803 402)"><use href="#cB" class="cb"/><text class="tb" y="2.7">PRKD3</text></g>
<g id="b-ddr1" transform="translate(690 422)"><use href="#cB" class="cb"/><text class="tb" y="2.7">DDR1</text></g>
<g id="b-ripk2" transform="translate(754 443)"><use href="#cB" class="cb"/><text class="tb" y="2.7">RIPK2</text></g>
<g id="b-trim24" transform="translate(824 444)"><use href="#cB" class="cb"/><text class="tb" y="2.7">TRIM24</text></g>
</g>

<!-- Panel C nodes -->
<g id="panel-c-nodes">
<g id="c-ddr1" transform="translate(250 524)"><use href="#rC" class="rn"/><text class="tc" y="2.7">DDR1</text></g>
<g id="c-prkd2" transform="translate(333 519)"><use href="#rC" class="rn"/><text class="tc" y="2.7">PRKD2</text></g>
<g id="c-ephb4" transform="translate(178 553)"><use href="#rC" class="rn"/><text class="tc" y="2.7">EPHB4</text></g>
<g id="c-hck" transform="translate(242 563)"><use href="#rC" class="rn"/><text class="tc" y="2.7">HCK</text></g>
<g id="c-btk" transform="translate(326 557)"><use href="#rC" class="rn"/><text class="tc" y="2.7">BTK</text></g>
<g id="c-prkd3" transform="translate(403 544)"><use href="#rC" class="rn"/><text class="tc" y="2.7">PRKD3</text></g>
<g id="c-acvr1" transform="translate(109 570)"><use href="#rC" class="rn"/><text class="tc" y="2.7">ACVR1</text></g>
<g id="c-tgfbr2" transform="translate(169 584)"><use href="#oC" class="oc"/><text class="tc" y="2.7">TGFBR2</text></g>
<g id="c-csf1r" transform="translate(242 590)"><use href="#oC" class="oc"/><text class="tc" y="2.7">CSF1R</text></g>
<g id="c-syk" transform="translate(347 587)"><use href="#rC" class="rn"/><text class="tc" y="2.7">SYK</text></g>
<g id="c-ripk2" transform="translate(412 592)"><use href="#rC" class="rn"/><text class="tc" y="2.7">RIPK2</text></g>
<g id="c-pdgfra" transform="translate(79 611)"><use href="#rC" class="rn"/><text class="tc" y="2.7">PDGFRA</text></g>
<g id="c-kdr" transform="translate(155 619)"><use href="#oC" class="oc"/><text class="tc" y="2.7">KDR</text></g>
<g id="c-sgk1" transform="translate(228 622)"><use href="#oC" class="oc"/><text class="tc" y="2.7">SGK1</text></g>
<g id="c-erbb2" transform="translate(301 613)"><use href="#oC" class="oc"/><text class="tc" y="2.7">ERBB2</text></g>
<g id="c-yes1" transform="translate(372 628)"><use href="#rC" class="rn"/><text class="tc" y="2.7">YES1</text></g>
<g id="c-cdk4" transform="translate(439 627)"><use href="#oC" class="oc"/><text class="tc" y="2.7">CDK4</text></g>
<g id="c-mapkapk3" transform="translate(121 652)"><use href="#rC" class="rn"/><text class="tc" y="2.7">MAPKAPK3</text></g>
<g id="c-egfr" transform="translate(186 652)"><use href="#oC" class="oc"/><text class="tc" y="2.7">EGFR</text></g>
<g id="c-lyn" transform="translate(284 650)"><use href="#rC" class="rn"/><text class="tc" y="2.7">LYN</text></g>
<g id="c-trib3" transform="translate(451 668)"><use href="#rC" class="rn"/><text class="tc" y="2.7">TRIB3</text></g>
<g id="c-tgfbr1" transform="translate(67 679)"><use href="#oC" class="oc"/><text class="tc" y="2.7">TGFBR1</text></g>
<g id="c-pim1" transform="translate(134 690)"><use href="#oC" class="oc"/><text class="tc" y="2.7">PIM1</text></g>
<g id="c-hif1a" transform="translate(221 683)"><use href="#hX" class="hx"/><text class="tc" y="2.7">HIF1A</text></g>
<g id="c-pak2" transform="translate(341 681)"><use href="#rC" class="rn"/><text class="tc" y="2.7">PAK2</text></g>
<g id="c-mapk11" transform="translate(405 693)"><use href="#rC" class="rn"/><text class="tc" y="2.7">MAPK11</text></g>
<g id="c-cdk6" transform="translate(285 702)"><use href="#oC" class="oc"/><text class="tc" y="2.7">CDK6</text></g>
<g id="c-irak4" transform="translate(69 720)"><use href="#rC" class="rn"/><text class="tc" y="2.7">IRAK4</text></g>
<g id="c-mapkapk2" transform="translate(143 731)"><use href="#rC" class="rn"/><text class="tc" y="2.7">MAPKAPK2</text></g>
<g id="c-mapk7" transform="translate(210 729)"><use href="#rC" class="rn"/><text class="tc" y="2.7">MAPK7</text></g>
<g id="c-aurkb" transform="translate(273 741)"><use href="#rC" class="rn"/><text class="tc" y="2.7">AURKB</text></g>
<g id="c-map3k1" transform="translate(352 745)"><use href="#rC" class="rn"/><text class="tc" y="2.7">MAP3K1</text></g>
<g id="c-pkn1" transform="translate(409 724)"><use href="#rC" class="rn"/><text class="tc" y="2.7">PKN1</text></g>
<g id="c-pkn3" transform="translate(475 721)"><use href="#rC" class="rn"/><text class="tc" y="2.7">PKN3</text></g>
<g id="c-cdk1" transform="translate(457 762)"><use href="#oC" class="oc"/><text class="tc" y="2.7">CDK1</text></g>
<g id="c-araf" transform="translate(104 769)"><use href="#rC" class="rn"/><text class="tc" y="2.7">ARAF</text></g>
<g id="c-chek2" transform="translate(188 768)"><use href="#rC" class="rn"/><text class="tc" y="2.7">CHEK2</text></g>
<g id="c-chek1" transform="translate(258 785)"><use href="#oC" class="oc"/><text class="tc" y="2.7">CHEK1</text></g>
<g id="c-plk1" transform="translate(387 782)"><use href="#rC" class="rn"/><text class="tc" y="2.7">PLK1</text></g>
<g id="c-aurka" transform="translate(329 794)"><use href="#rC" class="rn"/><text class="tc" y="2.7">AURKA</text></g>
<g id="c-ptk7" transform="translate(486 801)"><use href="#rC" class="rn"/><text class="tc" y="2.7">PTK7</text></g>
<g id="c-trim24" transform="translate(55 807)"><use href="#rC" class="rn"/><text class="tc" y="2.7">TRIM24</text></g>
<g id="c-trim28" transform="translate(128 807)"><use href="#oC" class="oc"/><text class="tc" y="2.7">TRIM28</text></g>
<g id="c-csnk1a1" transform="translate(430 812)"><use href="#rC" class="rn"/><text class="tc" y="2.7">CSNK1A1</text></g>
<g id="c-cdk2" transform="translate(193 818)"><use href="#oC" class="oc"/><text class="tc" y="2.7">CDK2</text></g>
<g id="c-wee1" transform="translate(307 829)"><use href="#rC" class="rn"/><text class="tc" y="2.7">WEE1</text></g>
<g id="c-bub1" transform="translate(130 850)"><use href="#rC" class="rn"/><text class="tc" y="2.7">BUB1</text></g>
<g id="c-pkmyt1" transform="translate(228 853)"><use href="#rC" class="rn"/><text class="tc" y="2.7">PKMYT1</text></g>
<g id="c-bub1b" transform="translate(328 859)"><use href="#rC" class="rn"/><text class="tc" y="2.7">BUB1B</text></g>
<g id="c-ttk" transform="translate(395 853)"><use href="#rC" class="rn"/><text class="tc" y="2.7">TTK</text></g>
<g id="c-ryk" transform="translate(470 849)"><use href="#rC" class="rn"/><text class="tc" y="2.7">RYK</text></g>
<g id="c-rps6ka1" transform="translate(156 887)"><use href="#rC" class="rn"/><text class="tc" y="2.7">RPS6KA1</text></g>
<g id="c-plk4" transform="translate(277 878)"><use href="#rC" class="rn"/><text class="tc" y="2.7">PLK4</text></g>
<g id="c-nek2" transform="translate(377 896)"><use href="#rC" class="rn"/><text class="tc" y="2.7">NEK2</text></g>
<g id="c-pbk" transform="translate(215 903)"><use href="#rC" class="rn"/><text class="tc" y="2.7">PBK</text></g>
<g id="c-melk" transform="translate(285 907)"><use href="#rC" class="rn"/><text class="tc" y="2.7">MELK</text></g>
</g>

<!-- Panel D nodes -->
<g id="panel-d-nodes">
<g id="d-hat1" transform="translate(627 519)"><use href="#hX" class="hx"/><text class="tc" y="2.7">HAT1</text></g>
<g id="d-ttk" transform="translate(768 514)"><use href="#rD" class="rn"/><text class="tc" y="2.7">TTK</text></g>
<g id="d-melk" transform="translate(694 534)"><use href="#rD" class="rn"/><text class="tc" y="2.7">MELK</text></g>
<g id="d-pbk" transform="translate(847 534)"><use href="#rD" class="rn"/><text class="tc" y="2.7">PBK</text></g>
<g id="d-ryk" transform="translate(910 529)"><use href="#rD" class="rn"/><text class="tc" y="2.7">RYK</text></g>
<g id="d-plk4" transform="translate(782 549)"><use href="#rD" class="rn"/><text class="tc" y="2.7">PLK4</text></g>
<g id="d-ptk7" transform="translate(967 560)"><use href="#rD" class="rn"/><text class="tc" y="2.7">PTK7</text></g>
<g id="d-bub1" transform="translate(683 574)"><use href="#oD" class="od"/><text class="tc" y="2.7">BUB1</text></g>
<g id="d-cdk2" transform="translate(743 581)"><use href="#rD" class="rn"/><text class="tc" y="2.7">CDK2</text></g>
<g id="d-plk1" transform="translate(819 585)"><use href="#rD" class="rn"/><text class="tc" y="2.7">PLK1</text></g>
<g id="d-csnk1a1" transform="translate(908 577)"><use href="#rD" class="rn"/><text class="tc" y="2.7">CSNK1A1</text></g>
<g id="d-bub1b" transform="translate(621 587)"><use href="#oD" class="od"/><text class="tc" y="2.7">BUB1B</text></g>
<g id="d-pkn3" transform="translate(562 617)"><use href="#rD" class="rn"/><text class="tc" y="2.7">PKN3</text></g>
<g id="d-rps6ka1" transform="translate(632 623)"><use href="#rD" class="rn"/><text class="tc" y="2.7">RPS6KA1</text></g>
<g id="d-chek1" transform="translate(712 611)"><use href="#rD" class="rn"/><text class="tc" y="2.7">CHEK1</text></g>
<g id="d-aurka" transform="translate(797 616)"><use href="#rD" class="rn"/><text class="tc" y="2.7">AURKA</text></g>
<g id="d-aurkb" transform="translate(857 636)"><use href="#rD" class="rn"/><text class="tc" y="2.7">AURKB</text></g>
<g id="d-trib3" transform="translate(958 630)"><use href="#rD" class="rn"/><text class="tc" y="2.7">TRIB3</text></g>
<g id="d-wee1" transform="translate(757 644)"><use href="#rD" class="rn"/><text class="tc" y="2.7">WEE1</text></g>
<g id="d-pkn1" transform="translate(671 654)"><use href="#rD" class="rn"/><text class="tc" y="2.7">PKN1</text></g>
<g id="d-map3k1" transform="translate(871 668)"><use href="#rD" class="rn"/><text class="tc" y="2.7">MAP3K1</text></g>
<g id="d-pkmyt1" transform="translate(622 678)"><use href="#rD" class="rn"/><text class="tc" y="2.7">PKMYT1</text></g>
<g id="d-cdk4" transform="translate(724 684)"><use href="#rD" class="rn"/><text class="tc" y="2.7">CDK4</text></g>
<g id="d-chek2" transform="translate(797 683)"><use href="#rD" class="rn"/><text class="tc" y="2.7">CHEK2</text></g>
<g id="d-cdk1" transform="translate(860 703)"><use href="#rD" class="rn"/><text class="tc" y="2.7">CDK1</text></g>
<g id="d-prkd2" transform="translate(996 700)"><use href="#rD" class="rn"/><text class="tc" y="2.7">PRKD2</text></g>
<g id="d-mapkapk2" transform="translate(669 705)"><use href="#rD" class="rn"/><text class="tc" y="2.7">MAPKAPK2</text></g>
<g id="d-ripk2" transform="translate(928 711)"><use href="#rD" class="rn"/><text class="tc" y="2.7">RIPK2</text></g>
<g id="d-nek2" transform="translate(578 716)"><use href="#rD" class="rn"/><text class="tc" y="2.7">NEK2</text></g>
<g id="d-mapk11" transform="translate(786 728)"><use href="#rD" class="rn"/><text class="tc" y="2.7">MAPK11</text></g>
<g id="d-trim28" transform="translate(649 741)"><use href="#rD" class="rn"/><text class="tc" y="2.7">TRIM28</text></g>
<g id="d-pak2" transform="translate(852 746)"><use href="#rD" class="rn"/><text class="tc" y="2.7">PAK2</text></g>
<g id="d-mapk7" transform="translate(724 748)"><use href="#rD" class="rn"/><text class="tc" y="2.7">MAPK7</text></g>
<g id="d-prkd3" transform="translate(989 751)"><use href="#rD" class="rn"/><text class="tc" y="2.7">PRKD3</text></g>
<g id="d-irak4" transform="translate(577 762)"><use href="#rD" class="rn"/><text class="tc" y="2.7">IRAK4</text></g>
<g id="d-mapkapk3" transform="translate(638 773)"><use href="#rD" class="rn"/><text class="tc" y="2.7">MAPKAPK3</text></g>
<g id="d-egfr" transform="translate(796 769)"><use href="#rD" class="rn"/><text class="tc" y="2.7">EGFR</text></g>
<g id="d-lyn" transform="translate(741 777)"><use href="#rD" class="rn"/><text class="tc" y="2.7">LYN</text></g>
<g id="d-pdgfra" transform="translate(928 769)"><use href="#rD" class="rn"/><text class="tc" y="2.7">PDGFRA</text></g>
<g id="d-erbb2" transform="translate(869 781)"><use href="#rD" class="rn"/><text class="tc" y="2.7">ERBB2</text></g>
<g id="d-yes1" transform="translate(794 806)"><use href="#rD" class="rn"/><text class="tc" y="2.7">YES1</text></g>
<g id="d-pim1" transform="translate(669 812)"><use href="#rD" class="rn"/><text class="tc" y="2.7">PIM1</text></g>
<g id="d-hck" transform="translate(731 818)"><use href="#rD" class="rn"/><text class="tc" y="2.7">HCK</text></g>
<g id="d-kdr" transform="translate(847 827)"><use href="#rD" class="rn"/><text class="tc" y="2.7">KDR</text></g>
<g id="d-tgfbr2" transform="translate(903 824)"><use href="#rD" class="rn"/><text class="tc" y="2.7">TGFBR2</text></g>
<g id="d-syk" transform="translate(786 843)"><use href="#rD" class="rn"/><text class="tc" y="2.7">SYK</text></g>
<g id="d-trim24" transform="translate(603 850)"><use href="#rD" class="rn"/><text class="tc" y="2.7">TRIM24</text></g>
<g id="d-araf" transform="translate(702 851)"><use href="#rD" class="rn"/><text class="tc" y="2.7">ARAF</text></g>
<g id="d-acvr1" transform="translate(961 871)"><use href="#rD" class="rn"/><text class="tc" y="2.7">ACVR1</text></g>
<g id="d-csf1r" transform="translate(752 876)"><use href="#rD" class="rn"/><text class="tc" y="2.7">CSF1R</text></g>
<g id="d-ephb4" transform="translate(819 874)"><use href="#rD" class="rn"/><text class="tc" y="2.7">EPHB4</text></g>
<g id="d-ddr1" transform="translate(895 877)"><use href="#rD" class="rn"/><text class="tc" y="2.7">DDR1</text></g>
<g id="d-sgk1" transform="translate(653 881)"><use href="#rD" class="rn"/><text class="tc" y="2.7">SGK1</text></g>
<g id="d-cdk6" transform="translate(706 906)"><use href="#rD" class="rn"/><text class="tc" y="2.7">CDK6</text></g>
<g id="d-btk" transform="translate(797 905)"><use href="#rD" class="rn"/><text class="tc" y="2.7">BTK</text></g>
<g id="d-tgfbr1" transform="translate(857 903)"><use href="#rD" class="rn"/><text class="tc" y="2.7">TGFBR1</text></g>
</g>

<!-- Table -->
<g id="table">
<rect class="hdr" x="14" y="930" width="1030" height="33"/>
<rect class="hdr" x="14" y="1158" width="1030" height="33"/>
<rect class="hdr" x="14" y="1372" width="1030" height="32"/>
<path class="grid" d="M14 930H1044M14 963H1044M14 996H1044M14 1028H1044M14 1061H1044M14 1093H1044M14 1126H1044M14 1158H1044M14 1191H1044M14 1223H1044M14 1256H1044M14 1288H1044M14 1321H1044M14 1372H1044M14 1404H1044M14 1437H1044M14 1487H1044M14 930V1488M207 930V1488M527 930V1488"/>
<text class="th" x="110" y="952">Biomarker</text>
<text class="th" x="367" y="952">Total number of interacting Kinases</text>
<text class="th" x="783" y="952">Protein Kinases</text>
<text class="td" x="110" y="985">BMP1</text><text class="td" x="367" y="985">1</text><text class="td" x="783" y="985">ACVR1</text>
<text class="td" x="110" y="1017.5">CTSB</text><text class="td" x="367" y="1017.5">2</text><text class="td" x="783" y="1017.5">EGFR, ERBB2</text>
<text class="td" x="110" y="1050">LOX</text><text class="td" x="367" y="1050">6</text><text class="td" x="783" y="1050" textLength="363">PDGFRA, KDR, TGFBR2, TGFBR1, ERBB2, EGFR</text>
<text class="td" x="110" y="1082.5">LOXL1</text><text class="td" x="367" y="1082.5">0</text><text class="td" x="783" y="1082.5">--</text>
<text class="td" x="110" y="1115">SERPINE1</text><text class="td" x="367" y="1115">5</text><text class="td" x="783" y="1115" textLength="287">EGFR, ERBB2, KDR, TGFBR2, TGFBR1</text>
<text class="td" x="110" y="1147.5">PLOD1</text><text class="td" x="367" y="1147.5">0</text><text class="td" x="783" y="1147.5">--</text>
<text class="th" x="110" y="1180">E2 Enzymes</text>
<text class="th" x="367" y="1180">Total number of interacting Kinases</text>
<text class="th" x="783" y="1180">Protein Kinases</text>
<text class="td" x="110" y="1212.5">Ube2E1</text><text class="td" x="367" y="1212.5">8</text><text class="td" x="783" y="1212.5" textLength="435">CDK1, CDK2, AURKA, AURKB, BUB1B, PLK1, NEK2, TRIB2</text>
<text class="td" x="110" y="1245">Ube2H</text><text class="td" x="367" y="1245">1</text><text class="td" x="783" y="1245">TRIM28</text>
<text class="td" x="110" y="1277.5">Ube2J2</text><text class="td" x="367" y="1277.5">1</text><text class="td" x="783" y="1277.5">SGK1</text>
<text class="td" x="110" y="1310">Ube2S</text><text class="td" x="367" y="1310">8</text><text class="td" x="783" y="1310" textLength="465">CDK2,  AURKB, BUB1B, PLK1, NEK2,  AURKA,  CDK1, MAP3K1</text>
<text class="td" x="110" y="1352">Ube2C</text><text class="td" x="367" y="1352">16</text>
<text class="td" x="783" y="1343.5" textLength="454">CDK4, CDK2,  AURKB, BUB1B, PLK1, NEK2, MAPK7, AURKA,</text>
<text class="td" x="783" y="1360" textLength="420">CDK1, PBK, CHEK1,TTK,   PKMYT1,  PLK4,  MELK, BUB1</text>
<text class="th" x="112" y="1393.5">Therapeutic Markers</text>
<text class="th" x="367" y="1393.5">Total number of interacting Kinases</text>
<text class="th" x="783" y="1393.5">Protein Kinases</text>
<text class="td" x="110" y="1426">HAT1</text><text class="td" x="367" y="1426">2</text><text class="td" x="783" y="1426">BUB1, BUB1B</text>
<text class="td" x="110" y="1468">HIF1A</text><text class="td" x="367" y="1468">14</text>
<text class="td" x="783" y="1460.5" textLength="436">CHEK1, CDK2,TRIM28, CDK1, CDK6, PIM1, TGFBR1, EGFR,</text>
<text class="td" x="783" y="1476.5" textLength="330">SGK1, KDR, TGFBR2, CSF1R, ERBB2, CDK4</text>
</g>
</svg>
